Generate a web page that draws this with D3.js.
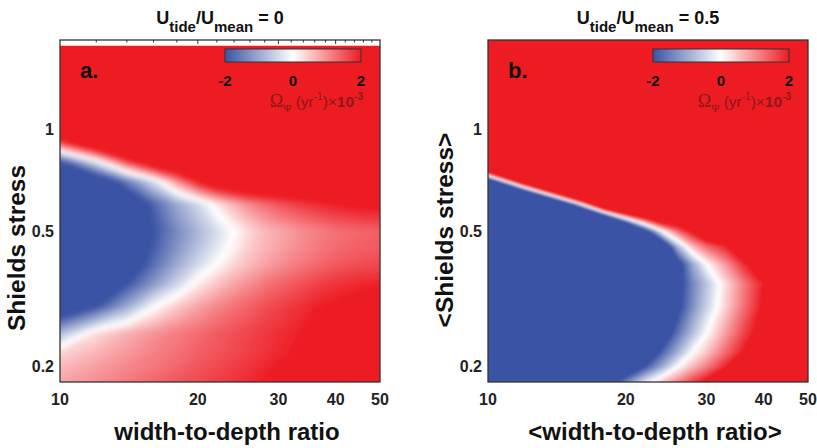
<!DOCTYPE html>
<html>
<head>
<meta charset="utf-8">
<style>
  body { margin: 0; background: white; }
  svg { background: white; }
  text { font-family: "Liberation Sans", Arial, sans-serif; font-weight: bold; fill: #222; }
</style>
</head>
<body>
<script src="https://d3js.org/d3.v7.min.js"></script>
<script>
const width = 817;
const height = 448;

// grid columns: width-to-depth ratio
const ratioA = [10, 12, 14, 16, 18, 20, 22, 24, 26, 28, 30, 33, 36, 40, 45, 50];
const ratioB = [10, 12, 14, 16, 18, 20, 22, 24, 26, 28, 30, 33, 36, 40, 45, 50];

// grid rows: Shields stress, top to bottom
const shieldsA = [1.75, 1.4, 1.2, 1.0, 0.9, 0.8, 0.7, 0.6, 0.5, 0.45, 0.4, 0.35, 0.3, 0.25, 0.22, 0.2, 0.18];
const shieldsB = [1.82, 1.4, 1.2, 1.0, 0.9, 0.8, 0.7, 0.6, 0.5, 0.45, 0.4, 0.35, 0.3, 0.25, 0.22, 0.2, 0.18];

// growth rate (yr^-1 x 1e-3), one row per Shields stress value
const omegaA = [
  [4, 4, 4, 4, 4, 4, 4, 4, 4, 4, 4, 4, 4, 4, 4, 4],
  [4, 4, 4, 4, 4, 4, 4, 4, 4, 4, 4, 4, 4, 4, 4, 4],
  [4, 4, 4, 4, 4, 4, 4, 4, 4, 4, 4, 4, 4, 4, 4, 4],
  [4, 4, 4, 4, 4, 4, 4, 4, 4, 4, 4, 4, 4, 4, 4, 4],
  [1.4, 3.2, 4, 4, 4, 4, 4, 4, 4, 4, 4, 4, 4, 4, 4, 4],
  [-2, -0.2, 1.7, 3, 3.5, 4, 4, 4, 4, 4, 4, 4, 4, 4, 4, 4],
  [-3.5, -2.8, -1.5, -0.35, 1.0, 2.1, 2.8, 3.1, 3.2, 3.2, 3.1, 3.0, 3.0, 3.0, 3.0, 3.0],
  [-4, -3.6, -2.8, -1.8, -1.0, -0.45, 0.2, 0.7, 1.05, 1.3, 1.5, 1.7, 1.85, 2.0, 2.1, 2.15],
  [-4, -3.6, -2.8, -2.0, -1.35, -0.85, -0.4, 0.0, 0.35, 0.6, 0.75, 0.95, 1.1, 1.25, 1.35, 1.4],
  [-4, -3.6, -2.7, -1.9, -1.25, -0.75, -0.3, 0.1, 0.45, 0.65, 0.8, 1.0, 1.15, 1.3, 1.4, 1.45],
  [-3.8, -3.3, -2.5, -1.7, -1.0, -0.45, 0.0, 0.35, 0.6, 0.8, 0.95, 1.15, 1.3, 1.45, 1.55, 1.6],
  [-3.4, -2.9, -2.0, -1.2, -0.5, 0.15, 0.5, 0.8, 1.0, 1.2, 1.35, 1.5, 1.65, 1.8, 1.9, 1.95],
  [-2.8, -2.0, -1.0, -0.05, 0.45, 0.8, 1.05, 1.25, 1.4, 1.55, 1.65, 1.8, 1.95, 2.05, 2.15, 2.2],
  [-0.8, 0.3, 0.7, 0.95, 1.15, 1.3, 1.45, 1.55, 1.65, 1.75, 1.85, 1.95, 2.05, 2.15, 2.25, 2.3],
  [0.35, 0.65, 0.9, 1.1, 1.25, 1.4, 1.5, 1.6, 1.7, 1.8, 1.9, 2.0, 2.1, 2.2, 2.3, 2.3],
  [0.6, 0.85, 1.05, 1.2, 1.35, 1.5, 1.6, 1.7, 1.8, 1.9, 2.0, 2.1, 2.2, 2.3, 2.3, 2.3],
  [0.8, 1.0, 1.2, 1.35, 1.5, 1.6, 1.7, 1.8, 1.9, 2.0, 2.1, 2.2, 2.3, 2.3, 2.3, 2.3]
];

const omegaB = [
  [16, 16, 16, 16, 16, 16, 16, 16, 16, 16, 16, 16, 16, 16, 16, 16],
  [16, 16, 16, 16, 16, 16, 16, 16, 16, 16, 16, 16, 16, 16, 16, 16],
  [16, 16, 16, 16, 16, 16, 16, 16, 16, 16, 16, 16, 16, 16, 16, 16],
  [16, 16, 16, 16, 16, 16, 16, 16, 16, 16, 16, 16, 16, 16, 16, 16],
  [16, 16, 16, 16, 16, 16, 16, 16, 16, 16, 16, 16, 16, 16, 16, 16],
  [10, 16, 16, 16, 16, 16, 16, 16, 16, 16, 16, 16, 16, 16, 16, 16],
  [-4.2, 4.2, 10.5, 16, 16, 16, 16, 16, 16, 16, 16, 16, 16, 16, 16, 16],
  [-16, -12, -5.6, 0, 5.6, 7, 7, 6.8, 4.7, 4.5, 5, 6, 8, 12, 14, 16],
  [-16, -16, -16, -16, -13, -6.5, -2.5, 0, 1.35, 2.2, 3.2, 4, 5.5, 8, 12, 16],
  [-16, -16, -16, -16, -16, -16, -7.4, -3.3, -0.8, 0.6, 1.3, 1.9, 2.6, 3.5, 5, 6],
  [-16, -16, -16, -16, -16, -16, -16, -6, -2.4, -1.0, 0, 0.9, 1.8, 2.6, 4, 5],
  [-16, -16, -16, -16, -16, -16, -16, -8, -2.3, -1.4, -0.7, 0.3, 1.1, 2.0, 3, 4],
  [-16, -16, -16, -16, -16, -16, -16, -8, -2.2, -1.3, -0.55, 0.4, 1.2, 2.1, 3, 4],
  [-16, -16, -16, -16, -16, -16, -8, -2.6, -1.6, -0.75, 0, 0.85, 1.6, 2.4, 3.5, 4.5],
  [-16, -16, -16, -16, -16, -8, -2.8, -1.8, -0.9, 0, 0.5, 1.3, 2.0, 2.8, 3.8, 4.5],
  [-16, -16, -16, -16, -5, -3, -2.0, -1.0, 0, 0.6, 1.1, 1.9, 2.6, 3.4, 4.2, 5],
  [-16, -12, -6, -4, -2.7, -1.45, -0.3, 0.5, 1.1, 1.7, 2.2, 3, 3.8, 4.5, 5, 5.5]
];

const xTicks = [10, 20, 30, 40, 50];
const yTicks = [0.2, 0.5, 1];
const cbarTicks = [-2, 0, 2];
const topMinorTicks = [12, 14, 16, 18, 20, 22, 24, 26, 28, 30, 32, 34, 36, 38, 40, 42, 44, 46, 48];

const panels = [
  {left: 60, ratio: ratioA, shields: shieldsA, omega: omegaA, letter: 'a.', tide: '0', blur: 2.2,
   xLabel: 'width-to-depth ratio', yLabel: 'Shields stress', yLabelMid: 248, cbLeft: 225},
  {left: 488, ratio: ratioB, shields: shieldsB, omega: omegaB, letter: 'b.', tide: '0.5', blur: 0.9,
   xLabel: '<width-to-depth ratio>', yLabel: '<Shields stress>', yLabelMid: 230, cbLeft: 653}
];

const plotW = 320;
const plotTop = 40;
const plotBottom = 382;
const capColor = '#8e171b';

const color = d3.scaleLinear()
  .domain([-2, 0, 2])
  .range(['#3a53a4', '#ffffff', '#ed1c24'])
  .clamp(true);

const step = 0.05;
const thresholds = d3.range(81).map(i => -2 + i * step);

const svg = d3.select('body').append('svg')
  .attr('width', width)
  .attr('height', height);
const defs = svg.append('defs');

panels.forEach((p, k) => {
  const x = d3.scaleLog().domain([10, 50]).range([p.left, p.left + plotW]);
  const y = d3.scaleLog().domain([0.18, 1.82]).range([plotBottom, plotTop]);
  const g = svg.append('g');

  // ticks along the top edge (only visible where the map leaves a gap)
  g.selectAll('.tt').data(topMinorTicks).join('line')
    .attr('x1', d => x(d)).attr('x2', d => x(d))
    .attr('y1', plotTop).attr('y2', d => plotTop + (d % 10 === 0 ? 4 : 2.5))
    .attr('stroke', '#333').attr('stroke-width', 1);

  // heat map from the grid, contoured by d3
  const n = p.ratio.length, m = p.shields.length;
  const px = p.ratio.map(v => x(v));
  const py = p.shields.map(v => y(v));
  // grid coordinate -> pixel; sample i sits at grid coordinate i + 0.5
  const lerp = (arr, gv) => {
    const kk = gv - 0.5;
    const i = Math.max(0, Math.min(arr.length - 2, Math.floor(kk)));
    const t = kk - i;
    return arr[i] + t * (arr[i + 1] - arr[i]);
  };
  const path = d3.geoPath(d3.geoTransform({
    point(a, b) { this.stream.point(lerp(px, a), lerp(py, b)); }
  }));
  const contours = d3.contours().size([n, m]).thresholds(thresholds)(p.omega.flat());

  defs.append('filter').attr('id', 'soft' + k)
    .append('feGaussianBlur').attr('stdDeviation', p.blur);
  const clipTop = Math.max(plotTop, py[0]);
  defs.append('clipPath').attr('id', 'clip' + k).append('rect')
    .attr('x', p.left).attr('y', clipTop).attr('width', plotW).attr('height', plotBottom - clipTop);

  const map = g.append('g').attr('clip-path', `url(#clip${k})`)
    .append('g').attr('filter', `url(#soft${k})`);
  map.append('rect')
    .attr('x', lerp(px, 0)).attr('y', lerp(py, 0))
    .attr('width', lerp(px, n) - lerp(px, 0)).attr('height', lerp(py, m) - lerp(py, 0))
    .attr('fill', color(-2));
  map.selectAll('path').data(contours).join('path')
    .attr('d', path)
    .attr('fill', d => color(d.value + step / 2));

  // frame
  g.append('rect')
    .attr('x', p.left).attr('y', plotTop).attr('width', plotW).attr('height', plotBottom - plotTop)
    .attr('fill', 'none').attr('stroke', '#333').attr('stroke-width', 1.3);

  // tick labels
  g.selectAll('.xt').data(xTicks).join('text')
    .attr('x', d => x(d)).attr('y', 405)
    .attr('text-anchor', 'middle').style('font-size', '16px')
    .text(d => d);
  g.selectAll('.yt').data(yTicks).join('text')
    .attr('x', p.left - 6).attr('y', d => y(d) + 6)
    .attr('text-anchor', 'end').style('font-size', '16px')
    .text(d => d);

  // axis titles
  g.append('text')
    .attr('x', p.left + plotW / 2 + 7).attr('y', 440)
    .attr('text-anchor', 'middle').style('font-size', '24px').style('fill', '#111')
    .text(p.xLabel);
  g.append('text')
    .attr('transform', `translate(${p.left - 35},${p.yLabelMid}) rotate(-90)`)
    .attr('text-anchor', 'middle').style('font-size', '24.5px').style('fill', '#111')
    .text(p.yLabel);

  // panel title
  const title = g.append('text')
    .attr('x', p.left + plotW / 2).attr('y', 24)
    .attr('text-anchor', 'middle').style('font-size', '18px').style('fill', '#111');
  title.append('tspan').text('U');
  title.append('tspan').attr('dy', 8).style('font-size', '15px').text('tide');
  title.append('tspan').attr('dy', -8).text('/U');
  title.append('tspan').attr('dy', 8).style('font-size', '15px').text('mean');
  title.append('tspan').attr('dy', -8).text(' = ' + p.tide);

  // panel letter
  g.append('text')
    .attr('x', p.left + 20).attr('y', 78)
    .style('font-size', '22px').style('fill', '#111')
    .text(p.letter);

  // colour bar
  const cb = d3.scaleLinear().domain([-2, 2]).range([p.cbLeft, p.cbLeft + 136]);
  const cbSteps = d3.range(136).map(i => cb.invert(p.cbLeft + i + 0.5));
  g.selectAll('.cb').data(cbSteps).join('rect')
    .attr('x', d => cb(d) - 0.5).attr('y', 49).attr('width', 1.2).attr('height', 13)
    .attr('fill', d => color(d));
  g.append('rect')
    .attr('x', p.cbLeft).attr('y', 49).attr('width', 136).attr('height', 13)
    .attr('fill', 'none').attr('stroke', '#333').attr('stroke-width', 1);
  g.selectAll('.cbt').data(cbarTicks).join('text')
    .attr('x', d => cb(d)).attr('y', 86)
    .attr('text-anchor', 'middle').style('font-size', '15px').style('fill', '#111')
    .text(d => d);

  const cap = g.append('text')
    .attr('x', p.cbLeft + 138).attr('y', 107)
    .attr('text-anchor', 'end').style('fill', capColor).style('font-size', '15.5px');
  cap.append('tspan').style('font-family', '"Liberation Serif", serif').style('font-weight', 'normal')
    .style('font-size', '18px').style('fill', capColor).text('Ω');
  cap.append('tspan').attr('dy', 5).style('font-family', '"Liberation Serif", serif').style('font-weight', 'normal')
    .style('font-size', '11px').style('fill', capColor).text('Ψ');
  cap.append('tspan').attr('dy', -5).style('font-weight', 'normal').style('fill', capColor).text('  (yr');
  cap.append('tspan').attr('dy', -7).style('font-weight', 'normal').style('font-size', '10px').style('fill', capColor).text('-1');
  cap.append('tspan').attr('dy', 7).style('font-weight', 'normal').style('fill', capColor).text(')×');
  cap.append('tspan').style('fill', capColor).text('10');
  cap.append('tspan').attr('dy', -7).style('font-size', '10px').style('fill', capColor).text('-3');
});
</script>
</body>
</html>
